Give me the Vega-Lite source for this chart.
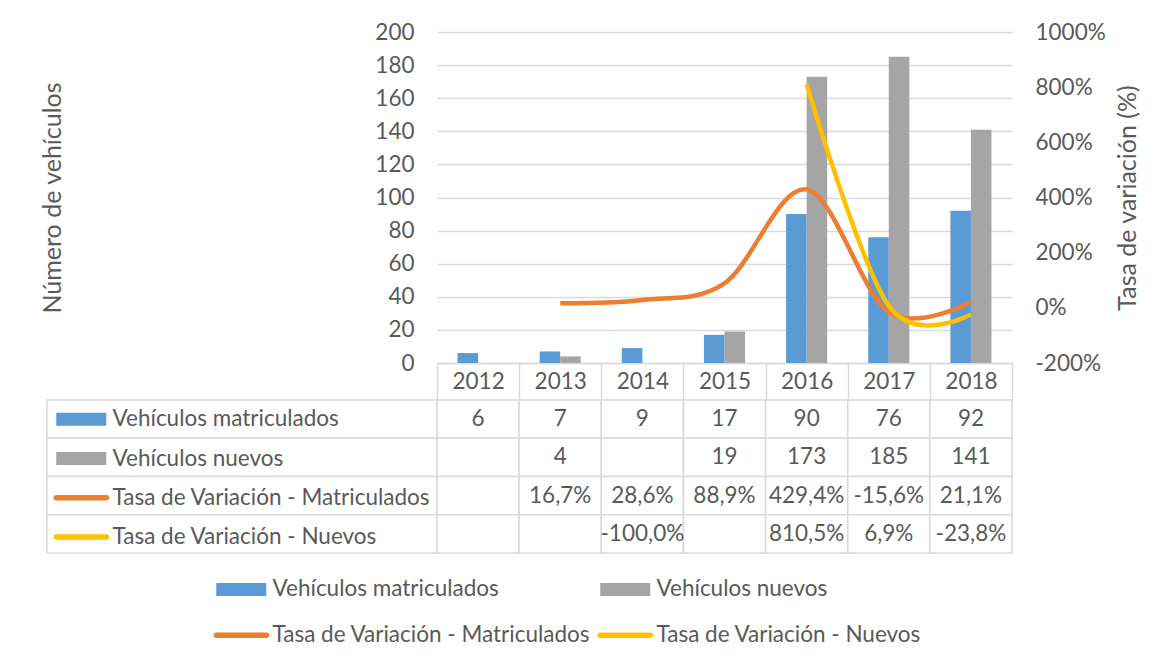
{
  "$schema": "https://vega.github.io/schema/vega-lite/v6.json",
  "padding": {"left": 40, "top": 21, "right": 0, "bottom": 0},
  "background": "white",
  "config": {
    "font": "Lato",
    "view": {"stroke": null},
    "locale": {"number": {"decimal": ",", "thousands": ".", "grouping": [3], "currency": ["", " €"], "minus": "-"}},
    "legend": {
      "orient": "none", "title": null, "padding": 0, "symbolSize": 100, "symbolStrokeWidth": 0,
      "symbolOpacity": 1, "labelFont": "Lato", "labelFontSize": 22.5, "labelColor": "#595959",
      "labelLimit": 600, "labelOffset": 0
    }
  },
  "datasets": {
    "main": [
      {"year": "2012", "series": "Vehículos matriculados", "value": 6},
      {"year": "2013", "series": "Vehículos matriculados", "value": 7},
      {"year": "2014", "series": "Vehículos matriculados", "value": 9},
      {"year": "2015", "series": "Vehículos matriculados", "value": 17},
      {"year": "2016", "series": "Vehículos matriculados", "value": 90},
      {"year": "2017", "series": "Vehículos matriculados", "value": 76},
      {"year": "2018", "series": "Vehículos matriculados", "value": 92},
      {"year": "2012", "series": "Vehículos nuevos", "value": null},
      {"year": "2013", "series": "Vehículos nuevos", "value": 4},
      {"year": "2014", "series": "Vehículos nuevos", "value": null},
      {"year": "2015", "series": "Vehículos nuevos", "value": 19},
      {"year": "2016", "series": "Vehículos nuevos", "value": 173},
      {"year": "2017", "series": "Vehículos nuevos", "value": 185},
      {"year": "2018", "series": "Vehículos nuevos", "value": 141},
      {"year": "2012", "series": "Tasa de Variación - Matriculados", "value": null},
      {"year": "2013", "series": "Tasa de Variación - Matriculados", "value": 0.167},
      {"year": "2014", "series": "Tasa de Variación - Matriculados", "value": 0.286},
      {"year": "2015", "series": "Tasa de Variación - Matriculados", "value": 0.889},
      {"year": "2016", "series": "Tasa de Variación - Matriculados", "value": 4.294},
      {"year": "2017", "series": "Tasa de Variación - Matriculados", "value": -0.156},
      {"year": "2018", "series": "Tasa de Variación - Matriculados", "value": 0.211},
      {"year": "2012", "series": "Tasa de Variación - Nuevos", "value": null},
      {"year": "2013", "series": "Tasa de Variación - Nuevos", "value": null},
      {"year": "2014", "series": "Tasa de Variación - Nuevos", "value": -1.0},
      {"year": "2015", "series": "Tasa de Variación - Nuevos", "value": null},
      {"year": "2016", "series": "Tasa de Variación - Nuevos", "value": 8.105},
      {"year": "2017", "series": "Tasa de Variación - Nuevos", "value": 0.069},
      {"year": "2018", "series": "Tasa de Variación - Nuevos", "value": -0.238}
    ],
    "series": [
      {"series": "Vehículos matriculados"},
      {"series": "Vehículos nuevos"},
      {"series": "Tasa de Variación - Matriculados"},
      {"series": "Tasa de Variación - Nuevos"}
    ]
  },
  "columns": 2,
  "bounds": "flush",
  "spacing": {"row": 37, "column": 0},
  "resolve": {
    "scale": {"color": "independent", "shape": "independent"},
    "legend": {"color": "independent", "shape": "independent"}
  },
  "concat": [
    {
      "width": 390, "height": 331,
      "data": {"name": "series"},
      "mark": {"type": "point", "filled": true, "opacity": 0},
      "encoding": {
        "color": {
          "field": "series", "type": "nominal",
          "scale": {"domain": ["Vehículos matriculados", "Vehículos nuevos", "Tasa de Variación - Matriculados", "Tasa de Variación - Nuevos"], "range": ["#5B9BD5", "#A5A5A5", "#ED7D31", "#FFC000"]},
          "legend": {"columns": 2, "direction": "horizontal", "legendX": 203, "legendY": 546, "rowPadding": 23, "columnPadding": 6}
        },
        "shape": {
          "field": "series", "type": "nominal",
          "scale": {"domain": ["Vehículos matriculados", "Vehículos nuevos", "Tasa de Variación - Matriculados", "Tasa de Variación - Nuevos"], "range": ["M-9,-1.3H1V1.3H-9Z", "M-9,-1.3H1V1.3H-9Z", "M-8.99,-0.55H1.05A0.55,0.55 0 0 1 1.05,0.55H-8.99A0.55,0.55 0 0 1 -8.99,-0.55Z", "M-8.99,-0.55H1.05A0.55,0.55 0 0 1 1.05,0.55H-8.99A0.55,0.55 0 0 1 -8.99,-0.55Z"]},
          "legend": {"columns": 2, "direction": "horizontal", "legendX": 203, "legendY": 546, "rowPadding": 23, "columnPadding": 6}
        }
      }
    },
    {
      "width": 575, "height": 331,
      "data": {"name": "main"},
      "encoding": {
        "x": {
          "field": "year", "type": "nominal",
          "scale": {"paddingInner": 0, "paddingOuter": 0},
          "axis": {
            "title": null, "labelAngle": 0, "labelFontSize": 22.5, "labelColor": "#595959",
            "domainColor": "#D9D9D9", "domainWidth": 1.5, "tickColor": "#D9D9D9", "tickWidth": 1.5,
            "tickSize": 37, "tickBand": "extent", "labelPadding": -18.5, "labelBaseline": "middle"
          }
        }
      },
      "layer": [
        {
          "transform": [
            {"filter": {"field": "series", "oneOf": ["Vehículos matriculados", "Vehículos nuevos"]}},
            {"filter": "isValid(datum.value)"}
          ],
          "mark": {"type": "bar"},
          "encoding": {
            "xOffset": {"field": "series", "type": "nominal", "scale": {"domain": ["Vehículos matriculados", "Vehículos nuevos"], "paddingOuter": 1.1, "paddingInner": 0}},
            "y": {
              "field": "value", "type": "quantitative",
              "scale": {"domain": [0, 200]},
              "axis": {
                "title": "Número de vehículos", "values": [0, 20, 40, 60, 80, 100, 120, 140, 160, 180, 200],
                "grid": true, "gridColor": "#D9D9D9", "gridWidth": 1.5, "ticks": false, "domain": false,
                "labelPadding": 23, "labelFontSize": 22.5, "labelColor": "#595959",
                "titleFontSize": 25, "titleFontWeight": "normal", "titleColor": "#595959",
                "titleAngle": 270, "titleX": -384.5, "titleY": 165.5, "titleAlign": "center", "titleBaseline": "middle"
              }
            },
            "color": {
              "field": "series", "type": "nominal", "legend": null,
              "scale": {"domain": ["Vehículos matriculados", "Vehículos nuevos", "Tasa de Variación - Matriculados", "Tasa de Variación - Nuevos"], "range": ["#5B9BD5", "#A5A5A5", "#ED7D31", "#FFC000"]}
            }
          }
        },
        {
          "transform": [
            {"filter": {"field": "series", "oneOf": ["Tasa de Variación - Matriculados", "Tasa de Variación - Nuevos"]}}
          ],
          "mark": {"type": "line", "interpolate": "cardinal", "strokeWidth": 4.5, "strokeCap": "butt", "strokeJoin": "round", "invalid": "break-paths-show-domains"},
          "encoding": {
            "y": {
              "field": "value", "type": "quantitative",
              "scale": {"domain": [-2, 10]},
              "axis": {
                "orient": "right", "title": "Tasa de variación (%)", "values": [-2, 0, 2, 4, 6, 8, 10], "format": ".0%",
                "grid": false, "ticks": false, "domain": false, "labelPadding": 23,
                "labelFontSize": 22.5, "labelColor": "#595959",
                "titleFontSize": 25, "titleFontWeight": "normal", "titleColor": "#595959",
                "titleAngle": 270, "titleX": 115, "titleY": 165.5, "titleAlign": "center", "titleBaseline": "middle"
              }
            },
            "color": {"field": "series", "type": "nominal", "legend": null}
          }
        }
      ],
      "resolve": {"scale": {"y": "independent"}}
    },
    {
      "width": 390, "height": 153,
      "layer": [
        {
          "data": {"name": "series"},
          "mark": {"type": "rect", "fill": "white", "stroke": "#D9D9D9", "strokeWidth": 1.5},
          "encoding": {
            "y": {"field": "series", "type": "nominal", "sort": null, "scale": {"domain": ["Vehículos matriculados", "Vehículos nuevos", "Tasa de Variación - Matriculados", "Tasa de Variación - Nuevos"], "paddingInner": 0, "paddingOuter": 0}, "axis": null}
          }
        },
        {
          "data": {"name": "series"},
          "mark": {"type": "point", "filled": true, "opacity": 0},
          "encoding": {
            "color": {
              "field": "series", "type": "nominal",
              "scale": {"domain": ["Vehículos matriculados", "Vehículos nuevos", "Tasa de Variación - Matriculados", "Tasa de Variación - Nuevos"], "range": ["#5B9BD5", "#A5A5A5", "#ED7D31", "#FFC000"]},
              "legend": {"direction": "vertical", "legendX": 43, "legendY": 8, "rowPadding": 16.25}
            },
            "shape": {
              "field": "series", "type": "nominal",
              "scale": {"domain": ["Vehículos matriculados", "Vehículos nuevos", "Tasa de Variación - Matriculados", "Tasa de Variación - Nuevos"], "range": ["M-9,-1.3H1V1.3H-9Z", "M-9,-1.3H1V1.3H-9Z", "M-8.99,-0.55H1.05A0.55,0.55 0 0 1 1.05,0.55H-8.99A0.55,0.55 0 0 1 -8.99,-0.55Z", "M-8.99,-0.55H1.05A0.55,0.55 0 0 1 1.05,0.55H-8.99A0.55,0.55 0 0 1 -8.99,-0.55Z"]},
              "legend": {"direction": "vertical", "legendX": 43, "legendY": 8, "rowPadding": 16.25}
            }
          }
        }
      ]
    },
    {
      "width": 575, "height": 153,
      "data": {"name": "main"},
      "encoding": {
        "x": {"field": "year", "type": "nominal", "scale": {"paddingInner": 0, "paddingOuter": 0}, "axis": null},
        "y": {"field": "series", "type": "nominal", "sort": null, "scale": {"domain": ["Vehículos matriculados", "Vehículos nuevos", "Tasa de Variación - Matriculados", "Tasa de Variación - Nuevos"], "paddingInner": 0, "paddingOuter": 0}, "axis": null}
      },
      "layer": [
        {
          "mark": {"type": "rect", "fill": "white", "stroke": "#D9D9D9", "strokeWidth": 1.5}
        },
        {
          "transform": [
            {"filter": {"field": "series", "oneOf": ["Vehículos matriculados", "Vehículos nuevos"]}},
            {"filter": "isValid(datum.value)"}
          ],
          "mark": {"type": "text", "fontSize": 22.5, "color": "#595959", "align": "center", "baseline": "middle"},
          "encoding": {"text": {"field": "value", "type": "quantitative", "format": "d"}}
        },
        {
          "transform": [
            {"filter": {"field": "series", "oneOf": ["Tasa de Variación - Matriculados", "Tasa de Variación - Nuevos"]}},
            {"filter": "isValid(datum.value)"}
          ],
          "mark": {"type": "text", "fontSize": 22.5, "color": "#595959", "align": "center", "baseline": "middle"},
          "encoding": {"text": {"field": "value", "type": "quantitative", "format": ".1%"}}
        }
      ]
    }
  ]
}
